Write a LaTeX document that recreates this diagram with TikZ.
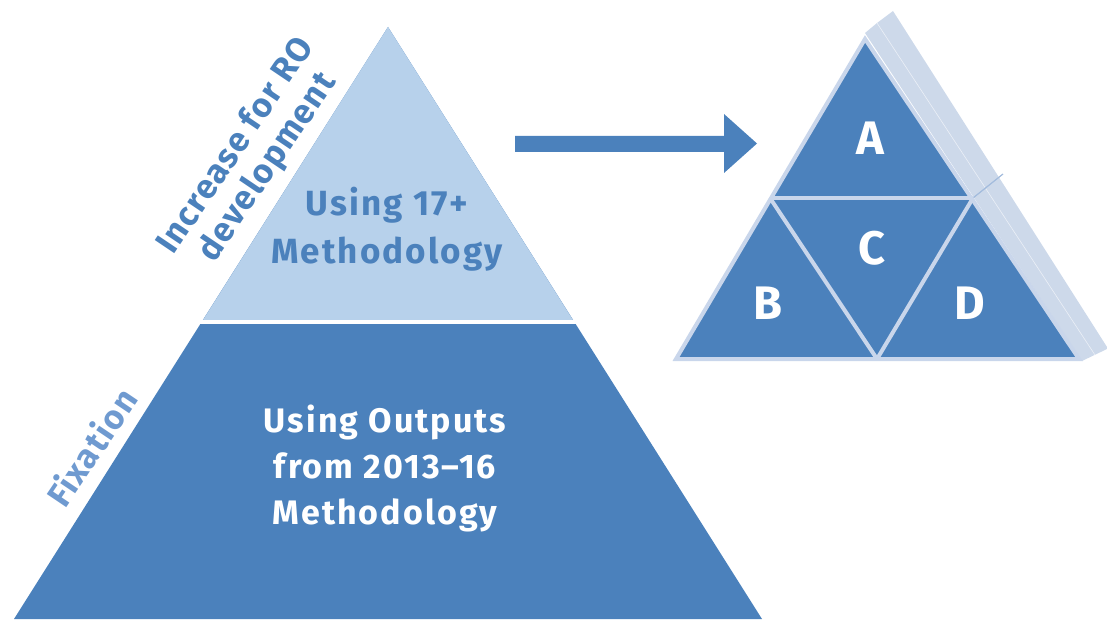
\documentclass[tikz,border=0pt]{standalone}
\usepackage{fontspec}
\setmainfont{Fira Sans}
\usetikzlibrary{positioning}

\definecolor{darkblue}{HTML}{4B81BC}
\definecolor{lightblue}{HTML}{B7D1EB}
\definecolor{sideblue}{HTML}{CDD9EA}
\definecolor{edgeblue}{HTML}{C9D6EB}
\definecolor{fixblue}{HTML}{6F9AD0}

\tikzset{
  pyrtext/.style={align=center, font=\bfseries\fontsize{35}{48}\selectfont\addfontfeature{LetterSpace=6}},
  tritext/.style={text=white, font=\bfseries\fontsize{47}{47}\selectfont},
  sidetext/.style={align=center, rotate=56, font=\bfseries\fontsize{34}{38}\selectfont\addfontfeature{LetterSpace=4}},
}

\begin{document}
\begin{tikzpicture}[x=1pt, y=1pt]
%  \draw[step=50,gray,very thin] (0,0) grid (1107,619);	% for debug
  \useasboundingbox (0,0) rectangle (1107,619);
  % pyramid
  \fill[darkblue] (388,592) -- (14,0) -- (762,0) -- cycle;
  \fill[lightblue] (388,592) -- (203,299) -- (573,299) -- cycle;
  \fill[white] (180,295) rectangle (600,299);
  \node[pyrtext, text=darkblue] (top) at (387,390) {Using 17+\\Methodology};
  \node[pyrtext, text=white, font=\bfseries\fontsize{34}{46}\selectfont\addfontfeature{LetterSpace=6}]
    (bottom) at (385,151) {Using Outputs\\from 2013--16\\Methodology};
  % side labels
  \node[sidetext, text=darkblue] (incr) at (252,462) {Increase for RO\\development};
  \node[sidetext, text=fixblue] (fix) at (91,172) {Fixation};
  % arrow
  \fill[darkblue] (515,467) -- (724,467) -- (724,446) -- (757,475.5)
    -- (724,505) -- (724,483) -- (515,483) -- cycle;
  % side face
  \fill[sideblue] (865,586) -- (877,596) -- (893,608) -- (1107,272) -- (1107,270)
    -- (1082,258) -- cycle;
  \draw[white!60!sideblue, line width=.6] (877,596) -- (1095,264);
  \draw[edgeblue!70!darkblue, line width=1.2] (973,421) -- (1003,445);
  % front face
  \draw[line width=4, draw=edgeblue, fill=darkblue] (865,580) -- (676,260) -- (1079,260) -- cycle;
  \foreach \a/\b in {{(770,421)}/{(973,421)}, {(770,421)}/{(877,260)}, {(973,421)}/{(877,260)}} {
    \draw[line width=4, edgeblue] \a -- \b;
  };
  % node
  \node[tritext] (A) at (870,481) {A};
  \node[tritext] (B) at (768,316) {B};
  \node[tritext] (C) at (872,371) {C};
  \node[tritext] (D) at (970,316) {D};
\end{tikzpicture}
\end{document}
